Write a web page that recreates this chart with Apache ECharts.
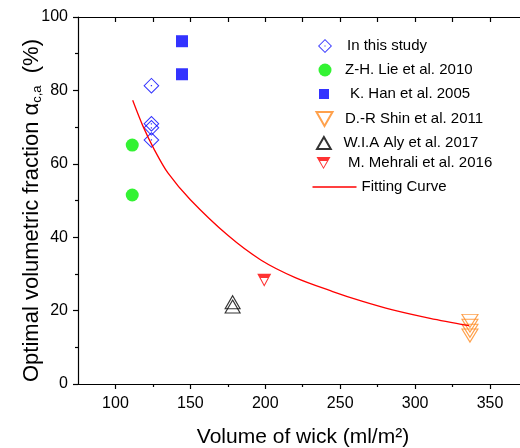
<!DOCTYPE html>
<html>
<head>
<meta charset="utf-8">
<script src="https://cdn.jsdelivr.net/npm/echarts@6/dist/echarts.min.js"></script>
<style>html,body{margin:0;padding:0;background:#fff;}#c{width:520px;height:448px;}</style>
</head>
<body>
<div id="c"></div>
<script>
// ---- data ----
const studyX = [124, 124, 124, 124];
const studyY = [81.3, 70.9, 69.8, 66.5];
const lieX = [111.2, 111.2];
const lieY = [65.1, 51.5];
const hanX = [144.4, 144.4];
const hanY = [93.4, 84.4];
const shinX = [336.6, 336.6, 336.6, 336.6];
const shinY = [17.2, 15.9, 14.5, 13.2];
const alyX = [178.2, 178.2];
const alyY = [22.3, 21.1];
const mehX = [199.3];
const mehY = [28.3];
const fitX = [111.5, 118.2, 126, 135, 150, 175, 197, 220, 245, 265, 285, 310, 336];
const fitY = [77.3, 70.4, 63.8, 57.5, 50.2, 40.5, 33.8, 29.0, 25.2, 22.5, 20.2, 17.9, 15.9];
const xMajorTicks = [100, 150, 200, 250, 300, 350];
const xMinorTicks = [125, 175, 225, 275, 325];
const xTopTicks = [100, 125, 150, 175, 200, 225, 250, 275, 300, 325, 350];
const names = ['In this study', 'Z-H. Lie et al. 2010', 'K. Han et al. 2005', 'D.-R Shin et al. 2011',
  'W.I.A Aly et al. 2017', 'M. Mehrali et al. 2016', 'Fitting Curve'];

const zip = (xs, ys) => xs.map((x, i) => [x, ys[i]]);
const FONT = "'Liberation Sans', Arial, Helvetica, sans-serif";

const SYM_DIAMOND = 'path://M50,0L100,50L50,100L0,50Z M50,9L9,50L50,91L91,50Z M46,46L54,46L54,54L46,54Z';
const SYM_DOWN = 'path://M0,0L100,0L50,87Z';
const SYM_UP = 'path://M50,0L100,87L0,87Z';
const SYM_HALF = 'path://M0,0L100,0L50,87Z M25,30L50,73L75,30Z';

function legendItem(name, cx, w, h, row, textX, icon) {
  const left = cx - w / 2;
  const pad = Math.max(0, textX - (left + w + 5));
  const item = icon ? { name: name, icon: icon } : name;
  return {
    data: [item], orient: 'vertical', padding: 0,
    left: left, top: row - Math.max(h, 16) / 2,
    itemWidth: w, itemHeight: h, selectedMode: false,
    textStyle: { fontFamily: FONT, fontSize: 15, color: '#000', lineHeight: 16, padding: [0, 0, 0, pad] }
  };
}

const chart = echarts.init(document.getElementById('c'), null, { renderer: 'canvas' });
const axisLine = { show: true, lineStyle: { color: '#000', width: 1.2 } };
chart.setOption({
  animation: false,
  backgroundColor: '#fff',
  grid: { left: 78, top: 17, width: 442, height: 367, containLabel: false, outerBoundsMode: 'none' },
  legend: [
    legendItem(names[0], 325, 14, 14, 46, 347),
    legendItem(names[1], 325, 13, 13, 70, 345),
    legendItem(names[2], 324, 10, 10, 94, 350),
    legendItem(names[3], 323.5, 16, 14, 119, 344),
    legendItem(names[4], 323.5, 15, 12, 143, 343),
    legendItem(names[5], 323.5, 14, 13, 163, 348),
    legendItem(names[6], 334.5, 44, 1.4, 187, 361, 'rect')
  ],
  xAxis: [
    {
      type: 'value', position: 'bottom', min: 75, max: 370,
      axisLine: axisLine,
      axisTick: { show: true, length: 5, customValues: xMajorTicks, lineStyle: { color: '#000', width: 1.2 } },
      axisLabel: { customValues: xMajorTicks, fontFamily: FONT, fontSize: 16, color: '#000', margin: 12 },
      splitLine: { show: false },
      name: 'Volume of wick (ml/m²)', nameLocation: 'middle', nameGap: 43, nameMoveOverlap: false,
      nameTextStyle: { fontFamily: FONT, fontSize: 21, color: '#000', padding: [0, 0, 0, 8] }
    },
    {
      type: 'value', position: 'bottom', min: 75, max: 370,
      axisLine: { show: false },
      axisTick: { show: true, length: 3, customValues: xMinorTicks, lineStyle: { color: '#000', width: 1.2 } },
      axisLabel: { show: false },
      splitLine: { show: false }
    },
    {
      type: 'value', position: 'top', min: 75, max: 370,
      axisLine: axisLine,
      axisTick: { show: true, inside: true, length: 5, customValues: xTopTicks, lineStyle: { color: '#000', width: 1.2 } },
      axisLabel: { show: false },
      splitLine: { show: false }
    }
  ],
  yAxis: {
    type: 'value', min: 0, max: 100, interval: 20,
    axisLine: axisLine,
    axisTick: { show: true, length: 5, lineStyle: { color: '#000', width: 1.2 } },
    minorTick: { show: true, splitNumber: 2, length: 3, lineStyle: { color: '#000', width: 1.2 } },
    axisLabel: { fontFamily: FONT, fontSize: 16, color: '#000', margin: 10 },
    splitLine: { show: false },
    name: '{a|Optimal volumetric fraction }{b|α}{s|c,a}{a|  (%)}',
    nameLocation: 'middle', nameGap: 34, nameMoveOverlap: false,
    nameTextStyle: {
      fontFamily: FONT, color: '#000', padding: [0, 20, 0, 0],
      rich: {
        a: { fontFamily: FONT, fontSize: 22, lineHeight: 25, color: '#000' },
        b: { fontFamily: FONT, fontSize: 22, lineHeight: 25, color: '#000' },
        s: { fontFamily: FONT, fontSize: 13, lineHeight: 13, verticalAlign: 'bottom', color: '#000' }
      }
    }
  },
  series: [
    { name: names[0], type: 'scatter', data: zip(studyX, studyY), symbol: SYM_DIAMOND, symbolSize: 16,
      itemStyle: { color: '#0000ff' }, z: 3 },
    { name: names[1], type: 'scatter', data: zip(lieX, lieY), symbol: 'circle', symbolSize: 13,
      itemStyle: { color: '#00f000' }, z: 3 },
    { name: names[2], type: 'scatter', data: zip(hanX, hanY), symbol: 'rect', symbolSize: 12,
      itemStyle: { color: '#0000ff' }, z: 3 },
    { name: names[3], type: 'scatter', data: zip(shinX, shinY), symbol: SYM_DOWN, symbolSize: [16, 13],
      itemStyle: { color: 'rgba(0,0,0,0)', borderColor: '#ff8a1f', borderWidth: 1.1 }, z: 3 },
    { name: names[4], type: 'scatter', data: zip(alyX, alyY), symbol: SYM_UP, symbolSize: [15, 13],
      itemStyle: { color: 'rgba(0,0,0,0)', borderColor: '#000', borderWidth: 1.1 }, z: 3 },
    { name: names[5], type: 'scatter', data: zip(mehX, mehY), symbol: SYM_HALF, symbolSize: [14, 13],
      itemStyle: { color: '#ff0000' }, z: 3 },
    { name: names[6], type: 'line', data: zip(fitX, fitY), symbol: 'none', smooth: 0.3,
      lineStyle: { color: '#ff0000', width: 1.3 }, itemStyle: { color: '#ff0000' }, z: 4 }
  ]
});
</script>
</body>
</html>
